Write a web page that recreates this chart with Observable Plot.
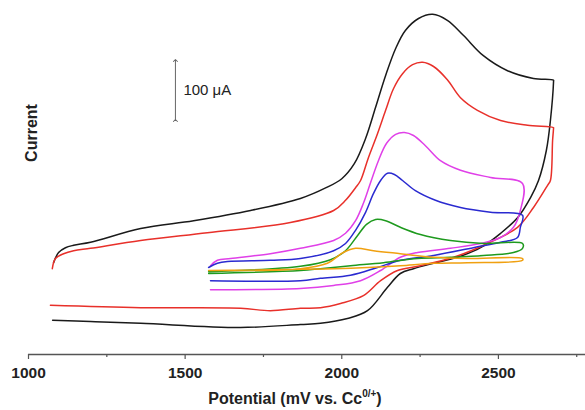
<!DOCTYPE html>
<html><head><meta charset="utf-8">
<script src="https://cdn.jsdelivr.net/npm/d3@7"></script>
<script src="https://cdn.jsdelivr.net/npm/@observablehq/plot@0.6"></script>
<style>body{margin:0;background:#fff;} svg{font-family:"Liberation Sans",Arial,sans-serif;}</style>
</head><body><div id="chart"></div>
<script>
// Potential (mV) and current (µA, arbitrary offset) pairs: forward scan then reverse scan
const blackCV = [[1080,153],[1096,170],[1118,178],[1144,182],[1198,187],[1358,210],[1527,223],[1709,240],[1868,260],[1950,278],[2000,293],[2040,318],[2076,360],[2108,412],[2140,465],[2172,510],[2203,540],[2245,560],[2290,567],[2337,557],[2388,532],[2452,498],[2529,473],[2612,460],[2676,457],
  [2676,455],[2666,390],[2653,340],[2628,290],[2603,262],[2561,228],[2507,202],[2443,178],[2369,162],[2293,152],[2229,143],[2187,135],[2146,112],[2082,73],[2018,60],[1932,52],[1868,50],[1677,45],[1358,52],[1198,55],[1077,57]];
const redCV = [[1076,143],[1086,160],[1112,168],[1144,173],[1198,177],[1358,190],[1571,203],[1836,220],[1974,240],[2012,257],[2044,278],[2060,290],[2085,328],[2114,368],[2140,407],[2165,443],[2194,468],[2226,483],[2258,487],[2293,480],[2337,458],[2379,428],[2433,407],[2507,390],[2593,382],[2676,378],
  [2676,377],[2673,357],[2666,290],[2657,282],[2612,245],[2561,212],[2465,185],[2357,162],[2251,148],[2178,140],[2124,123],[2069,98],[1996,85],[1932,78],[1868,77],[1772,73],[1677,77],[1358,78],[1070,82]];
const magentaCV = [[1581,148],[1603,157],[1645,160],[1772,168],[1868,177],[1974,190],[2012,202],[2044,223],[2069,252],[2091,285],[2117,323],[2143,352],[2172,367],[2200,370],[2229,365],[2267,348],[2315,323],[2379,307],[2475,295],[2577,285],
  [2570,240],[2548,212],[2507,195],[2443,185],[2347,177],[2242,170],[2187,162],[2124,140],[2060,123],[1974,115],[1868,110],[1581,108]];
const blueCV = [[1575,145],[1603,152],[1635,155],[1772,157],[1868,160],[1974,173],[2012,185],[2044,207],[2076,237],[2101,268],[2124,290],[2146,302],[2168,300],[2194,290],[2235,273],[2299,257],[2379,245],[2475,237],[2577,232],
  [2570,212],[2561,195],[2507,187],[2420,178],[2293,165],[2187,157],[2114,145],[2028,132],[1932,127],[1868,123],[1581,123]];
const greenCV = [[1575,138],[1868,147],[1964,158],[2012,173],[2050,198],[2079,217],[2108,225],[2140,223],[2187,212],[2251,200],[2347,190],[2452,185],[2577,185],
  [2577,177],[2548,170],[2452,165],[2347,162],[2242,160],[2133,153],[2028,148],[1932,143],[1868,140],[1575,135]];
const orangeCV = [[1575,140],[1868,143],[1954,152],[2005,170],[2044,177],[2101,173],[2187,168],[2293,162],[2401,160],[2577,160],
  [2577,157],[2401,153],[2293,152],[2187,148],[2082,145],[1974,143],[1868,142],[1575,140]];

const series = [
  {data: blackCV, color: "#1a1a1a"},
  {data: redCV, color: "#e8302a"},
  {data: magentaCV, color: "#e040e8"},
  {data: blueCV, color: "#2a2ad0"},
  {data: greenCV, color: "#1e9a1e"},
  {data: orangeCV, color: "#f0a010"}
];
const majorTicks = [1000, 1500, 2000, 2500];
const minorTicks = [1250, 1750, 2250, 2750];
const scaleBar = [{x: 1469, y1: 390, y2: 490, label: "100 μA"}];

const chart = Plot.plot({
  width: 585, height: 410,
  marginLeft: 28, marginRight: 0, marginTop: 0, marginBottom: 56,
  x: {domain: [1000, 2778]},
  y: {domain: [0, 590], axis: null},
  marks: [
    Plot.ruleY([0], {stroke: "#555", strokeWidth: 1.5}),
    Plot.axisX(minorTicks, {tickSize: 3, text: null, label: null, stroke: "#555", strokeWidth: 1.2}),
    Plot.axisX(majorTicks, {tickSize: 5, tickPadding: 7, stroke: "#555", strokeWidth: 1.2, fontSize: 15.5, fontWeight: "bold", fill: "#222", tickFormat: d => String(d), label: null}),
    ...series.map(s => Plot.line(s.data, {x: d => d[0], y: d => d[1], stroke: s.color, strokeWidth: 1.5, curve: "catmull-rom"})),
    Plot.link(scaleBar, {x1: "x", x2: "x", y1: "y1", y2: "y2", stroke: "#666", strokeWidth: 1, markerStart: "arrow", markerEnd: "arrow"}),
    Plot.text(scaleBar, {x: d => d.x, y: d => (d.y1 + d.y2) / 2, text: "label", textAnchor: "start", dx: 8, fontSize: 15, fill: "#222"})
  ]
});
const svg = d3.select(chart);
const xl = svg.append("text").attr("x", 295).attr("y", 404).attr("text-anchor", "middle")
  .attr("font-size", 16).attr("font-weight", "bold").attr("fill", "#222");
xl.append("tspan").text("Potential (mV vs. Cc");
xl.append("tspan").attr("dy", -7).attr("font-size", 10).text("0/+");
xl.append("tspan").attr("dy", 7).text(")");
svg.append("text").attr("transform", "translate(37,133) rotate(-90)").attr("text-anchor", "middle")
  .attr("font-size", 16).attr("font-weight", "bold").attr("fill", "#222").text("Current");
document.getElementById("chart").appendChild(chart);
</script></body></html>
